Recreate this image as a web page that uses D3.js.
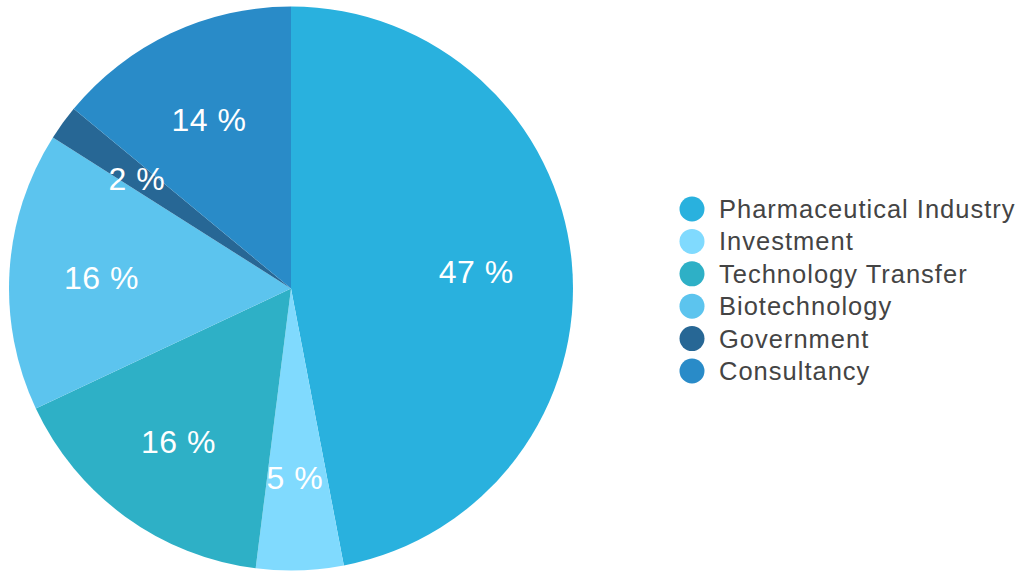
<!DOCTYPE html>
<html>
<head>
<meta charset="utf-8">
<script src="https://cdn.jsdelivr.net/npm/d3@7"></script>
<style>
  body { margin: 0; background: #fff; }
  text { font-family: "Liberation Sans", Arial, sans-serif; }
</style>
</head>
<body>
<div class="chart"></div>
<script>
// data
var categories = ["Pharmaceutical Industry", "Investment", "Technology Transfer", "Biotechnology", "Government", "Consultancy"];
var values = [47, 5, 16, 16, 2, 14];
var colors = ["#29b1de", "#80dafe", "#2eb0c6", "#5cc4ee", "#276795", "#298bc8"];

var width = 1019, height = 574;
var cx = 291, cy = 288.5, radius = 282;

var svg = d3.select(".chart").append("svg")
    .attr("width", width)
    .attr("height", height);

var g = svg.append("g")
    .attr("transform", "translate(" + cx + "," + cy + ")");

var data = categories.map(function(c, i){ return {name: c, value: values[i], color: colors[i]}; });

var pie = d3.pie().sort(null).value(function(d){ return d.value; });
var arc = d3.arc().innerRadius(0).outerRadius(radius);
var labelArc = d3.arc().innerRadius(radius * 2 / 3).outerRadius(radius * 2 / 3);

var arcs = pie(data);

g.selectAll(".slice")
    .data(arcs)
    .enter().append("path")
    .attr("class", "slice")
    .attr("d", arc)
    .attr("fill", function(d){ return d.data.color; });

g.selectAll(".lbl")
    .data(arcs)
    .enter().append("text")
    .attr("class", "lbl")
    .attr("transform", function(d){ var c = labelArc.centroid(d); return "translate(" + (c[0] - 2) + "," + (c[1] + 1) + ")"; })
    .attr("text-anchor", "middle")
    .attr("dy", "0.35em")
    .attr("fill", "#fff")
    .attr("font-size", 32)
    .attr("letter-spacing", 0.5)
    .text(function(d){ return d.data.value + " %"; });

// legend
var legend = svg.append("g").attr("transform", "translate(692,209)");
var row = legend.selectAll(".row")
    .data(data)
    .enter().append("g")
    .attr("class", "row")
    .attr("transform", function(d, i){ return "translate(0," + (i * 32.4) + ")"; });

row.append("circle")
    .attr("r", 12.5)
    .attr("fill", function(d){ return d.color; });

row.append("text")
    .attr("x", 27)
    .attr("dy", "0.35em")
    .attr("font-size", 25.5)
    .attr("letter-spacing", 1)
    .attr("fill", "#444")
    .text(function(d){ return d.name; });
</script>
</body>
</html>
